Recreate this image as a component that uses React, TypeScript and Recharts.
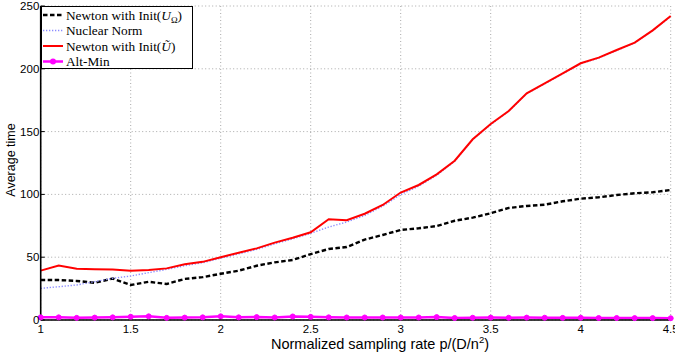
import { LineChart, Line, XAxis, YAxis, CartesianGrid, Legend } from 'recharts';

// normalized sampling rate p/(D/n^2)
const rates = [
    1.0, 1.1, 1.2, 1.3, 1.4, 1.5, 1.6, 1.7, 1.8, 1.9,
    2.0, 2.1, 2.2, 2.3, 2.4, 2.5, 2.6, 2.7, 2.8, 2.9,
    3.0, 3.1, 3.2, 3.3, 3.4, 3.5, 3.6, 3.7, 3.8, 3.9,
    4.0, 4.1, 4.2, 4.3, 4.4, 4.5,
];

const newtonOmega = [
    31.8, 31.8, 31.1, 29.6, 33.0, 27.9, 30.4, 28.7, 32.7, 34.1,
    36.8, 39.3, 43.2, 45.9, 47.8, 52.5, 56.5, 58.1, 64.0, 67.7,
    71.7, 73.0, 74.8, 79.0, 81.5, 85.0, 89.2, 90.8, 91.8, 94.5,
    96.6, 97.7, 99.5, 100.9, 101.7, 103.5,
];

const nuclearNorm = [
    25.2, 26.5, 27.9, 30.5, 33.2, 35.0, 37.7, 40.3, 43.2, 45.6,
    49.2, 52.6, 56.2, 60.6, 64.6, 69.0, 74.0, 78.0, 83.2, 90.6,
    99.8, 106.6, 115.2, 126.4, 143.5, 155.6, 166.2, 180.2, 188.0, 196.0,
    204.0, 208.6, 214.6, 220.6, 230.4, 241.6,
];

const newtonTilde = [
    39.3, 43.4, 40.9, 40.4, 40.2, 39.3, 39.8, 41.1, 44.3, 46.3,
    50.0, 53.6, 57.0, 61.6, 65.5, 69.8, 80.2, 79.5, 84.6, 91.6,
    101.5, 107.5, 116.0, 126.8, 143.9, 156.0, 166.4, 180.5, 188.4, 196.4,
    204.4, 208.9, 215.0, 220.8, 230.6, 242.0,
];

const altMin = [
    2.1, 2.1, 1.7, 1.9, 2.1, 2.6, 2.9, 1.7, 1.9, 2.1,
    2.9, 2.1, 2.3, 2.0, 2.8, 2.5, 2.1, 2.0, 2.0, 2.0,
    2.0, 2.0, 2.3, 1.6, 1.8, 1.9, 1.8, 1.9, 1.8, 1.7,
    1.8, 1.6, 1.6, 1.5, 1.5, 1.4,
];

const xTicks = [1, 1.5, 2, 2.5, 3, 3.5, 4, 4.5];
const yTicks = [0, 50, 100, 150, 200, 250];

const data = rates.map((p, i) => ({
    p,
    newtonOmega: newtonOmega[i],
    nuclearNorm: nuclearNorm[i],
    newtonTilde: newtonTilde[i],
    altMin: altMin[i],
}));

const SANS = '"Liberation Sans", Arial, sans-serif';
const SERIF = '"Liberation Serif", "Times New Roman", serif';

const BLACK_DASH = '4.5 2.5';
const BLUE = '#8c8cff';
const BLUE_DASH = '1.3 1.7';

function MatlabLegend() {
    const rowY = [9, 24.5, 40, 55.5];
    return (
        <svg width={152} height={63} style={{ display: 'block' }}>
            <rect x={0.5} y={0.5} width={151} height={62} fill="#fff" stroke="#000" strokeWidth={1} />
            <line x1={2} x2={22} y1={rowY[0]} y2={rowY[0]} stroke="#000" strokeWidth={2.4} strokeDasharray={BLACK_DASH} />
            <line x1={2} x2={22} y1={rowY[1]} y2={rowY[1]} stroke={BLUE} strokeWidth={1.4} strokeDasharray={BLUE_DASH} />
            <line x1={2} x2={22} y1={rowY[2]} y2={rowY[2]} stroke="#ff0000" strokeWidth={2} />
            <line x1={2} x2={22} y1={rowY[3]} y2={rowY[3]} stroke="#ff00ff" strokeWidth={2.5} />
            <circle cx={12} cy={rowY[3]} r={3} fill="#ff00ff" />
            <g fontFamily={SERIF} fontSize={13.3} fill="#000">
                <text x={25} y={rowY[0] + 4.5}>
                    Newton with Init(<tspan fontStyle="italic">U</tspan>
                    <tspan fontSize={9} dy={3}>Ω</tspan>
                    <tspan dy={-3}>)</tspan>
                </text>
                <text x={25} y={rowY[1] + 4.5}>Nuclear Norm</text>
                <text x={25} y={rowY[2] + 4.5}>
                    Newton with Init(<tspan fontStyle="italic">{'U\u0303'}</tspan>)
                </text>
                <text x={25} y={rowY[3] + 4.5}>Alt-Min</text>
            </g>
        </svg>
    );
}

function XLabel() {
    return (
        <text x={380} y={349} textAnchor="middle" fontFamily={SANS} fontSize={14.5} fill="#000">
            Normalized sampling rate p/(D/n
            <tspan fontSize={9.5} dy={-6}>2</tspan>
            <tspan dy={6}>)</tspan>
        </text>
    );
}

function YLabel() {
    return (
        <text
            x={15}
            y={160}
            transform="rotate(-90, 15, 160)"
            textAnchor="middle"
            fontFamily={SANS}
            fontSize={12.5}
            fill="#000"
        >
            Average time
        </text>
    );
}

export default function App() {
    return (
        <div style={{ position: 'absolute', left: 0, top: 0, width: 675, height: 360, background: '#fff' }}>
            <LineChart
                width={675}
                height={360}
                data={data}
                margin={{ top: 6, right: 4.3, bottom: 0, left: 0 }}
            >
                <CartesianGrid
                    stroke="#a8a8a8"
                    strokeDasharray="1 2.5"
                    strokeWidth={1}
                />
                <XAxis
                    dataKey="p"
                    type="number"
                    domain={[1, 4.5]}
                    ticks={xTicks}
                    height={40}
                    tickSize={-4}
                    tickMargin={9}
                    axisLine={{ stroke: '#000', strokeWidth: 1.6 }}
                    tickLine={{ stroke: '#000' }}
                    tick={{ fill: '#000', fontFamily: SANS, fontSize: 11.5 }}
                    interval={0}
                    label={{ content: () => <XLabel /> }}
                />
                <XAxis
                    xAxisId="top"
                    orientation="top"
                    dataKey="p"
                    type="number"
                    domain={[1, 4.5]}
                    ticks={xTicks}
                    height={0}
                    tickSize={-4}
                    tick={false}
                    axisLine={{ stroke: '#000', strokeWidth: 1.2 }}
                    tickLine={{ stroke: '#000' }}
                />
                <YAxis
                    type="number"
                    domain={[0, 250]}
                    ticks={yTicks}
                    width={40.7}
                    tickSize={-4}
                    tickMargin={5.4}
                    axisLine={{ stroke: '#000', strokeWidth: 1.6 }}
                    tickLine={{ stroke: '#000' }}
                    tick={{ fill: '#000', fontFamily: SANS, fontSize: 11.5 }}
                    interval={0}
                    label={{ content: () => <YLabel /> }}
                />
                <YAxis
                    yAxisId="right"
                    orientation="right"
                    type="number"
                    domain={[0, 250]}
                    ticks={yTicks}
                    width={0}
                    tickSize={-4}
                    tick={false}
                    axisLine={{ stroke: '#000', strokeWidth: 1.2 }}
                    tickLine={{ stroke: '#000' }}
                />
                <Line
                    dataKey="newtonOmega"
                    stroke="#000"
                    strokeWidth={2.4}
                    strokeDasharray={BLACK_DASH}
                    dot={false}
                    activeDot={false}
                    type="linear"
                    isAnimationActive={false}
                />
                <Line
                    dataKey="nuclearNorm"
                    stroke={BLUE}
                    strokeWidth={1.4}
                    strokeDasharray={BLUE_DASH}
                    dot={false}
                    activeDot={false}
                    type="linear"
                    isAnimationActive={false}
                />
                <Line
                    dataKey="newtonTilde"
                    stroke="#ff0000"
                    strokeWidth={2}
                    dot={false}
                    activeDot={false}
                    type="linear"
                    isAnimationActive={false}
                />
                <Line
                    dataKey="altMin"
                    stroke="#ff00ff"
                    strokeWidth={2.5}
                    dot={{ r: 2.5, fill: '#ff00ff', stroke: '#ff00ff', strokeWidth: 1 }}
                    activeDot={false}
                    type="linear"
                    isAnimationActive={false}
                />
                <Legend
                    layout="vertical"
                    align="center"
                    verticalAlign="middle"
                    wrapperStyle={{ left: 40.7, top: 6, width: 'auto', height: 'auto' }}
                    content={() => <MatlabLegend />}
                />
            </LineChart>
        </div>
    );
}
